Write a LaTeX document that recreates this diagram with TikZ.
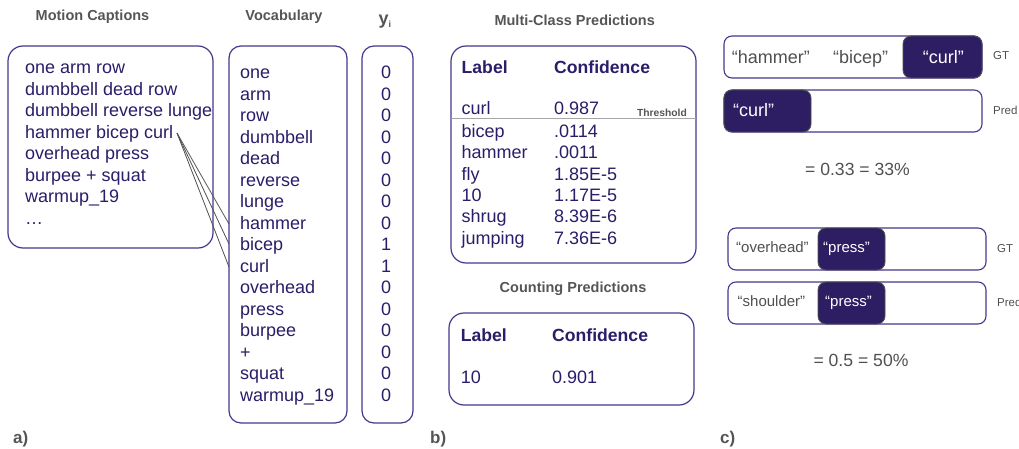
\documentclass[tikz,border=0pt]{standalone}
\usepackage{fontspec}
\setmainfont{Liberation Sans}
\definecolor{navy}{RGB}{42,30,105}
\definecolor{navyfill}{RGB}{45,30,100}
\definecolor{framec}{RGB}{70,55,140}
\definecolor{titlegray}{RGB}{85,85,85}
\definecolor{txtgray}{RGB}{80,80,80}
\tikzset{
  panelbox/.style={draw=framec, line width=1.2pt, rounded corners=15pt, fill=white},
  barbox/.style={draw=framec, line width=1.1pt, rounded corners=8pt, fill=white},
  darkbox/.style={draw=txtgray, line width=0.9pt, rounded corners=8pt, fill=navyfill},
  ttl/.style={font=\fontsize{14.5}{16}\selectfont\bfseries, text=titlegray, anchor=base, inner sep=0pt},
  body/.style={font=\fontsize{18}{20}\selectfont, text=navy, anchor=base west, inner sep=0pt},
  bodyb/.style={font=\fontsize{17.6}{20}\selectfont\bfseries, text=navy, anchor=base west, inner sep=0pt},
  digit/.style={font=\fontsize{18}{20}\selectfont, text=navy, anchor=base, inner sep=0pt},
  qtxt/.style={font=\fontsize{18}{20}\selectfont, text=txtgray, anchor=base west, inner sep=0pt},
  qtxtw/.style={font=\fontsize{18}{20}\selectfont, text=white, anchor=base west, inner sep=0pt},
  qsm/.style={font=\fontsize{15}{17}\selectfont, text=txtgray, anchor=base west, inner sep=0pt},
  qsmw/.style={font=\fontsize{15}{17}\selectfont, text=white, anchor=base west, inner sep=0pt},
  side/.style={font=\fontsize{11.5}{13}\selectfont, text=txtgray, anchor=base west, inner sep=0pt},
  result/.style={font=\fontsize{17.6}{20}\selectfont, text=txtgray, anchor=base, inner sep=0pt},
  plabel/.style={font=\fontsize{17}{19}\selectfont\bfseries, text=titlegray, anchor=base west, inner sep=0pt},
  fanline/.style={draw=txtgray, line width=0.8pt},
}
\begin{document}
\begin{tikzpicture}[x=1pt,y=-1pt]
\useasboundingbox (0,0) rectangle (1019,449);
% ---------- panel a ----------
\node[ttl] (tcap) at (92.5,20.7) {Motion Captions};
\node[ttl] (tvoc) at (284,20.7) {Vocabulary};
\node[ttl, font=\fontsize{18}{20}\selectfont\bfseries] (tyi) at (385,25) {y\textsubscript{\fontsize{9}{10}\selectfont i}};
\draw[panelbox] (8,46) rectangle (213,248);
\draw[panelbox, rounded corners=12pt] (229,46) rectangle (347,423);
\node (vocab) at (288,234.5) [inner sep=0pt, minimum width=118pt, minimum height=377pt] {};
\draw[panelbox, rounded corners=12pt] (362,46) rectangle (413,423);
\node (ybox) at (387.5,234.5) [inner sep=0pt, minimum width=51pt, minimum height=377pt] {};
\foreach \t [count=\i] in {one arm row, dumbbell dead row, dumbbell reverse lunge, hammer bicep curl, overhead press, burpee + squat, warmup\_19, \dots}
  \node[body] (cap\i) at (25,{74+(\i-1)*21.45}) {\t};
\foreach \t/\d [count=\i] in {one/0, arm/0, row/0, dumbbell/0, dead/0, reverse/0, lunge/0, hammer/0, bicep/1, curl/1, overhead/0, press/0, burpee/0, +/0, squat/0, warmup\_19/0}{
  \node[body] (v\i) at (240,{79+(\i-1)*21.47}) {\t};
  \node[digit] (d\i) at (386,{79+(\i-1)*21.47}) {\d};
}
\coordinate (fan) at (177,133);
\draw[fanline] (fan) -- (229,224);
\draw[fanline] (fan) -- (229,244);
\draw[fanline] (fan) -- (229,267);
\node[plabel] (la) at (13,443) {a)};
% ---------- panel b ----------
\node[ttl] (tmc) at (574.7,25.3) {Multi-Class Predictions};
\draw[panelbox] (451,46) rectangle (696,263);
\node[bodyb] (mcl) at (461.5,74) {Label};
\node[bodyb] (mcc) at (554,74) {Confidence};
\draw[draw=gray!70, line width=1pt] (451,118.3) -- (696,118.3);
\node[font=\fontsize{10.3}{12}\selectfont\bfseries, text=titlegray, anchor=base east, inner sep=0pt] (thr) at (687,116.5) {Threshold};
\node[body] (r0l) at (461.5,115) {curl};
\node[body] (r0c) at (554,115) {0.987};
\foreach \l/\c [count=\i] in {bicep/.0114, hammer/.0011, fly/1.85E-5, 10/1.17E-5, shrug/8.39E-6, jumping/7.36E-6}{
  \node[body] (r\i l) at (461.5,{137.5+(\i-1)*21.3}) {\l};
  \node[body] (r\i c) at (554,{137.5+(\i-1)*21.3}) {\c};
}
\node[ttl] (tcp) at (573,292.7) {Counting Predictions};
\draw[panelbox] (449,313) rectangle (694,405);
\node[bodyb] (cpl) at (460.7,341.7) {Label};
\node[bodyb] (cpc) at (552,341.7) {Confidence};
\node[body] (cp1) at (460.7,383.3) {10};
\node[body] (cp2) at (552,383.3) {0.901};
\node[plabel] (lb) at (430,443) {b)};
% ---------- panel c ----------
\draw[barbox] (724,36) rectangle (982,78);
\draw[darkbox] (903,36) rectangle (982,78);
\node[qtxt] (h1) at (731.7,64) {“hammer”};
\node[qtxt] (h2) at (833,64) {“bicep”};
\node[qtxtw] (h3) at (922.7,64) {“curl”};
\node[side] (gt1) at (993,60) {GT};
\draw[barbox] (724,90) rectangle (982,132);
\draw[darkbox] (724,90) rectangle (811,132);
\node[qtxtw] (p1) at (733,116.7) {“curl”};
\node[side] (pr1) at (993,115) {Pred};
\node[result] (res1) at (857.5,175.7) {= 0.33 = 33\%};
\draw[barbox] (728,228) rectangle (986,270);
\draw[darkbox] (818,228) rectangle (885,270);
\node[qsm] (o1) at (736,252.7) {“overhead”};
\node[qsmw] (o2) at (823,252.7) {“press”};
\node[side] (gt2) at (997,252) {GT};
\draw[barbox] (728,282) rectangle (986,324);
\draw[darkbox] (818,282) rectangle (885,324);
\node[qsm] (s1) at (737.5,306) {“shoulder”};
\node[qsmw] (s2) at (825,306) {“press”};
\node[side] (pr2) at (997,306.7) {Pred};
\node[result] (res2) at (861,366.7) {= 0.5 = 50\%};
\node[plabel] (lc) at (720,443) {c)};
\end{tikzpicture}
\end{document}
